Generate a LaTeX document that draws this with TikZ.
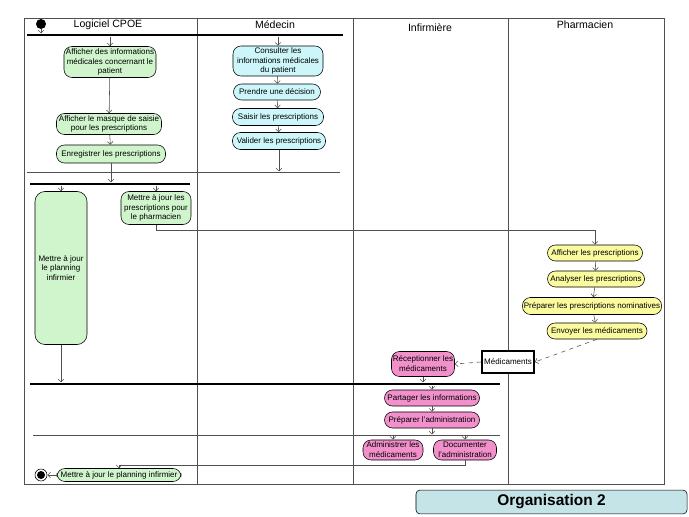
\documentclass[tikz,border=0pt]{standalone}
\usepackage{fontspec}
\setmainfont{Liberation Sans}
\usetikzlibrary{arrows.meta}
\definecolor{cpoegreen}{HTML}{D0F5CC}
\definecolor{medcyan}{HTML}{CCF6FA}
\definecolor{pharmyellow}{HTML}{FAFA9E}
\definecolor{infpink}{HTML}{F290CC}
\definecolor{titlecyan}{HTML}{C4E4E8}
\definecolor{lanegray}{HTML}{505050}
\begin{document}
\begin{tikzpicture}[
  x=0.025cm, y=-0.025cm,
  act/.style={draw, rounded corners=2mm, align=center, inner sep=1pt, font=\fontsize{5.7}{7}\selectfont},
  cpoe/.style={act, fill=cpoegreen},
  med/.style={act, fill=medcyan},
  pharma/.style={act, fill=pharmyellow},
  inf/.style={act, fill=infpink},
  lane/.style={font=\fontsize{7.5}{9}\selectfont},
  forkbar/.style={fill=black, inner sep=0pt, minimum height=0.07cm},
  joinline/.style={fill=lanegray, inner sep=0pt, minimum height=0.4pt},
  flow/.style={draw=lanegray, -{Straight Barb[length=2pt,width=4pt]}},
  objflow/.style={flow, dashed}
]
\useasboundingbox (0,0) rectangle (689,517);
\draw[lanegray] (24,18) rectangle (664,484);
\draw[lanegray] (197,18) -- (197,484);
\draw[lanegray] (353,18) -- (353,484);
\draw[lanegray] (508,18) -- (508,484);
\node[lane] (cpoelane) at (108,25) {Logiciel CPOE};
\node[lane] (medlane) at (275,25) {Médecin};
\node[lane] (inflane) at (430,28) {Infirmière};
\node[lane] (pharmalane) at (585,25) {Pharmacien};

\node[circle, fill=black, minimum size=0.25cm, inner sep=0pt] (start) at (41,24) {};
\node[forkbar, minimum width=7.9cm] (fork1) at (185,35) {};
\node[joinline, minimum width=7.825cm] (join1) at (183.5,172) {};
\node[forkbar, minimum width=4cm] (fork2) at (110,184) {};
\node[forkbar, minimum width=11.75cm] (fork3) at (265,384) {};
\node[joinline, minimum width=11.675cm] (join2) at (266.5,435) {};

\node[cpoe, minimum width=2.3cm, minimum height=0.775cm] (affinfo) at (110,62) {Afficher des informations\\médicales concernant le\\patient};
\node[cpoe, minimum width=2.625cm, minimum height=0.525cm] (affmasque) at (109,124) {Afficher le masque de saisie\\pour les prescriptions};
\node[cpoe, minimum width=2.725cm, minimum height=0.45cm] (enreg) at (111,154) {Enregistrer les prescriptions};
\node[med, minimum width=2.25cm, minimum height=0.75cm] (consulter) at (278,61) {Consulter les\\informations médicales\\du patient};
\node[med, minimum width=2.175cm, minimum height=0.4cm] (decision) at (277,92) {Prendre une décision};
\node[med, minimum width=2.275cm, minimum height=0.425cm] (saisir) at (278,117) {Saisir les prescriptions};
\node[med, minimum width=2.325cm, minimum height=0.425cm] (valider) at (279,141) {Valider les prescriptions};
\node[cpoe, minimum width=1.3cm, minimum height=3.825cm, rounded corners=2.5mm] (planning) at (61,268) {Mettre à jour\\le planning\\infirmier};
\node[cpoe, minimum width=1.75cm, minimum height=0.825cm] (majpresc) at (156,208) {Mettre à jour les\\prescriptions pour\\le pharmacien};
\node[pharma, minimum width=2.375cm, minimum height=0.4cm] (affpresc) at (595,253) {Afficher les prescriptions};
\node[pharma, minimum width=2.425cm, minimum height=0.4cm] (analyser) at (596,279) {Analyser les prescriptions};
\node[pharma, minimum width=3.4cm, minimum height=0.425cm] (preparer) at (592,306) {Préparer les prescriptions nominatives};
\node[pharma, minimum width=2.5cm, minimum height=0.4cm] (envoyer) at (597,331) {Envoyer les médicaments};
\node[draw, fill=white, line width=1.2pt, minimum width=1.3cm, minimum height=0.55cm, inner sep=1pt, font=\fontsize{5.7}{7}\selectfont] (medicaments) at (508,362) {Médicaments};
\node[inf, minimum width=1.55cm, minimum height=0.625cm] (receptionner) at (423,364) {Réceptionner les\\médicaments};
\node[inf, minimum width=2.375cm, minimum height=0.4cm] (partager) at (432,398) {Partager les informations};
\node[inf, minimum width=2.375cm, minimum height=0.4cm] (prepadmin) at (432,420) {Préparer l'administration};
\node[inf, minimum width=1.5cm, minimum height=0.5cm] (administrer) at (393,450) {Administrer les\\médicaments};
\node[inf, minimum width=1.575cm, minimum height=0.5cm] (documenter) at (465,450) {Documenter\\l'administration};
\node[cpoe, minimum width=3.1cm, minimum height=0.325cm] (majplanning) at (119,475) {Mettre à jour le planning infirmier};
\node[circle, draw, fill=white, minimum size=0.3cm, inner sep=0pt] (stop) at (41,475) {};
\fill (stop) circle (0.1cm);

\draw[flow] (start) -- (start |- fork1.north);
\draw[flow] (fork1.south -| affinfo) -- (affinfo);
\draw[flow] (fork1.south -| consulter) -- (consulter);
\draw[flow] (affinfo) -- (affmasque);
\draw[flow] (affmasque) -- (enreg);
\draw[flow] (enreg) -- (enreg |- fork2.north);
\draw[flow] (consulter) -- (decision);
\draw[flow] (decision) -- (saisir);
\draw[flow] (saisir) -- (valider);
\draw[flow] (valider) -- (valider |- join1.north);
\draw[flow] (fork2.south -| planning) -- (planning);
\draw[flow] (fork2.south -| majpresc) -- (majpresc);
\draw[flow] (majpresc.south) -- ++(0,5) -| (affpresc.north);
\draw[flow] (affpresc) -- (analyser);
\draw[flow] (analyser) -- (preparer);
\draw[flow] (preparer) -- (envoyer);
\draw[objflow] (envoyer.south) -- (medicaments.east);
\draw[objflow] (medicaments.west) -- (receptionner.east);
\draw[flow] (receptionner) -- (receptionner |- fork3.north);
\draw[flow] (planning) -- (planning |- fork3.north);
\draw[flow] (fork3.south -| partager) -- (partager);
\draw[flow] (partager) -- (prepadmin);
\draw[flow] (prepadmin) -- (prepadmin |- join2.north);
\draw[flow] (join2.south -| administrer) -- (administrer);
\draw[flow] (join2.south -| documenter) -- (documenter);
\draw[flow] (documenter.south) -- ++(0,5) -| (majplanning.north);
\draw[flow] (majplanning) -- (stop);

\node[draw, rounded corners=1mm, fill=titlecyan, minimum width=6.775cm, minimum height=0.55cm, font=\bfseries\fontsize{11}{13}\selectfont] (title) at (551.5,502) {Organisation 2};
\end{tikzpicture}
\end{document}
